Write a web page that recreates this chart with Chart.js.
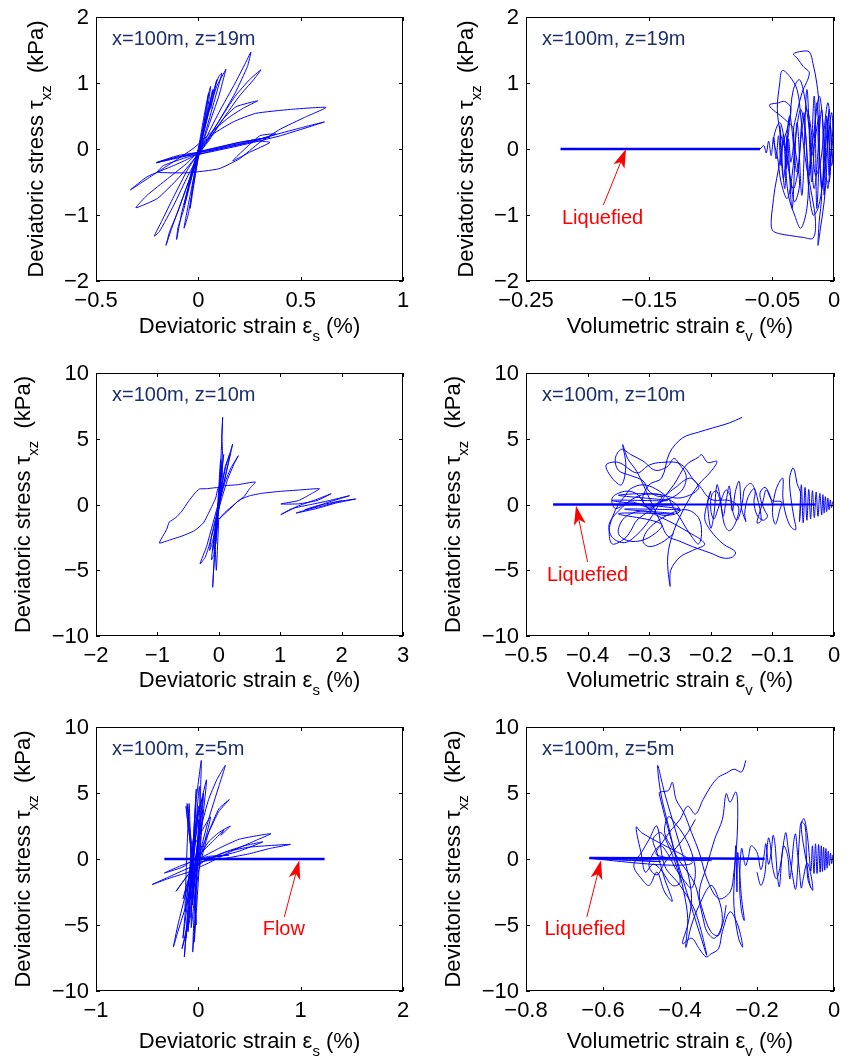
<!DOCTYPE html>
<html lang="en">
<head>
<meta charset="UTF-8">
<title>Stress paths x=100m</title>
<script src="https://cdn.jsdelivr.net/npm/chart.js"></script>
<style>
  body { margin: 0; background: #fff; }
  .page { position: relative; width: 850px; height: 1062px; }
  canvas { position: absolute; }
</style>
</head>
<body>
<div class="page">
  <canvas id="p1" width="425" height="354" style="left:0;top:0"></canvas>
  <canvas id="p2" width="425" height="354" style="left:425px;top:0"></canvas>
  <canvas id="p3" width="425" height="354" style="left:0;top:354px"></canvas>
  <canvas id="p4" width="425" height="354" style="left:425px;top:354px"></canvas>
  <canvas id="p5" width="425" height="354" style="left:0;top:708px"></canvas>
  <canvas id="p6" width="425" height="354" style="left:425px;top:708px"></canvas>
</div>

<script>
// ---- data (strain %, stress kPa) ----
const depthLabels = ['x=100m, z=19m', 'x=100m, z=10m', 'x=100m, z=5m'];

const stressTicks19 = [-2, -1, 0, 1, 2];
const stressTicks = [-10, -5, 0, 5, 10];
const shearTicks19 = [-0.5, 0, 0.5, 1];
const volTicks19 = [-0.25, -0.15, -0.05, 0];
const shearTicks10 = [-2, -1, 0, 1, 2, 3];
const volTicks10 = [-0.5, -0.4, -0.3, -0.2, -0.1, 0];
const shearTicks5 = [-1, 0, 1, 2];
const volTicks5 = [-0.8, -0.6, -0.4, -0.2, 0];

// z = 19 m, deviatoric strain vs stress
const z19Shear = [
  [0,0],[0.02,0.25],[0.04,0.5],[0.03,0.3],[0,-0.05],[-0.03,-0.35],[-0.05,-0.55],[-0.03,-0.3],[0.01,0.1],
  [0.05,0.6],[0.07,0.9],[0.05,0.55],[0.01,0.05],[-0.04,-0.5],[-0.07,-0.85],[-0.04,-0.45],[0.02,0.2],
  [0.06,0.75],[0.1,1.1],[0.115,1.15],[0.08,0.75],[0.03,0.2],[-0.03,-0.4],[-0.07,-0.9],[-0.1,-1.2],
  [-0.106,-1.37],[-0.08,-0.95],[-0.02,-0.25],[0.04,0.45],[0.09,0.95],[0.13,1.18],[0.135,1.21],[0.1,0.8],
  [0.05,0.35],[0,-0.1],[-0.06,-0.6],[-0.1,-0.95],[-0.14,-1.25],[-0.158,-1.46],[-0.13,-1.2],[-0.06,-0.6],
  [0.02,0.05],[0.1,0.55],[0.18,1.0],[0.23,1.3],[0.257,1.47],[0.24,1.25],[0.18,0.85],[0.1,0.42],
  [0.03,0.08],[-0.05,-0.3],[-0.12,-0.72],[-0.18,-1.1],[-0.215,-1.32],[-0.19,-1.25],[-0.12,-0.85],
  [-0.05,-0.4],[0.02,0],[0.1,0.42],[0.18,0.8],[0.25,1.05],[0.306,1.2],[0.27,1.05],[0.2,0.8],[0.12,0.45],
  [0.05,0.12],[-0.02,-0.15],[-0.1,-0.45],[-0.2,-0.75],[-0.305,-0.89],[-0.25,-0.7],[-0.15,-0.45],
  [-0.05,-0.2],[0.04,0.1],[0.12,0.45],[0.184,0.64],[0.29,0.73],[0.22,0.62],[0.15,0.48],[0.08,0.3],
  [-0.02,0.02],[-0.1,-0.15],[-0.2,-0.35],[-0.332,-0.62],[-0.25,-0.42],[-0.12,-0.25],[-0.02,-0.1],
  [0.05,0.18],[0.17,0.41],[0.28,0.54],[0.45,0.6],[0.624,0.63],[0.52,0.48],[0.4,0.3],[0.3,0.1],
  [0.2,-0.15],[0.1,-0.3],[-0.05,-0.36],[-0.2,-0.35],[-0.17,-0.25],[-0.05,-0.12],[0.05,-0.05],
  [0.2,0.05],[0.4,0.2],[0.616,0.41],[0.5,0.32],[0.38,0.22],[0.25,0.1],[0.1,0],[0,-0.08],[-0.1,-0.12],
  [-0.207,-0.21],[-0.12,-0.15],[0,-0.06],[0.15,0.05],[0.3,0.15],[0.38,0.23],[0.3,0.2],[0.168,-0.18],
  [0.25,-0.05],[0.35,0.1],[0.28,0.12],[0.1,0],[0,-0.05],[-0.1,-0.1],[-0.2,-0.2],[-0.1,-0.12],[0,-0.05],
  [0.2,0.1],[0.35,0.18],[0.2,0.1],[0,-0.04]
];
const z19ShearCore = [
  [0,-0.1],[0.03,0.45],[0.05,0.85],[0.04,0.6],[0.01,0.1],[-0.02,-0.5],[-0.04,-0.9],[-0.03,-0.6],[0,0],
  [0.04,0.7],[0.06,0.95],[0.045,0.6],[0.02,0.2],[-0.01,-0.3],[-0.05,-1.0],[-0.07,-1.2],[-0.04,-0.7],
  [0.01,0.05],[0.07,0.8],[0.09,1.05],[0.06,0.6]
];

// z = 19 m, volumetric strain vs stress
const z19Vol = [
  [-0.06,0],[-0.057,0.05],[-0.055,-0.06],[-0.053,0.12],[-0.051,-0.1],[-0.049,0.18],[-0.047,-0.15],
  [-0.045,0.2],[-0.043,-0.25],[-0.041,0.22],[-0.039,-0.3],[-0.037,0.15],[-0.035,-0.2],[-0.033,0.3],
  [-0.04,0.45],[-0.0525,0.66],[-0.045,0.7],[-0.04,0.72],[-0.035,0.62],[-0.038,0.3],[-0.042,0.05],
  [-0.045,-0.3],[-0.048,-0.6],[-0.05,-0.9],[-0.051,-1.1],[-0.05,-1.23],[-0.045,-1.28],[-0.036,-1.31],
  [-0.025,-1.34],[-0.017,-1.35],[-0.015,-1.1],[-0.018,-0.7],[-0.022,-0.3],[-0.025,0.1],[-0.027,0.5],
  [-0.03,0.9],[-0.036,1.1],[-0.042,1.19],[-0.044,1.0],[-0.046,0.6],[-0.043,0.2],[-0.038,-0.1],
  [-0.035,-0.5],[-0.032,-0.8],[-0.028,-0.55],[-0.03,-0.2],[-0.033,0.25],[-0.03,0.55],[-0.026,0.85],
  [-0.02,1.15],[-0.025,1.25],[-0.03,1.38],[-0.033,1.44],[-0.026,1.48],[-0.02,1.47],[-0.017,1.29],
  [-0.014,1.0],[-0.012,0.6],[-0.013,0.2],[-0.011,-0.3],[-0.01,-0.7],[-0.012,-1.1],[-0.013,-1.46],
  [-0.011,-1.2],[-0.008,-0.8],[-0.006,-0.3],[-0.005,0.3],[-0.004,0.6],[-0.006,0.2],[-0.008,-0.4],
  [-0.004,-0.5],[-0.002,0],[0,0.2],[-0.002,-0.25],[-0.006,0.45],[-0.01,-0.6],[-0.014,0.7],[-0.018,-0.5],
  [-0.022,0.9],[-0.026,-0.7],[-0.03,0.4],[-0.034,-0.9],[-0.038,0.2],[-0.04,-0.6],[-0.044,0.35],
  [-0.041,-0.45],[-0.036,0.5],[-0.03,-0.35],[-0.025,0.55],[-0.02,-0.4],[-0.016,0.8],[-0.014,-0.9],
  [-0.012,0.5],[-0.018,-0.1],[-0.02,0.4],[-0.016,-0.6],[-0.01,0.6],[-0.008,-0.7],[-0.006,0.5],
  [-0.004,-0.4],[-0.003,0.35],[-0.001,-0.15],[0,0.05]
];
const z19VolLoops = [
  [-0.02,0.3],[-0.024,0.8],[-0.028,1.05],[-0.033,0.9],[-0.036,0.4],[-0.039,-0.2],[-0.037,-0.7],
  [-0.032,-1.0],[-0.027,-1.2],[-0.022,-0.9],[-0.02,-0.3],[-0.016,0.3],[-0.012,0.8],[-0.009,0.4],
  [-0.007,-0.2],[-0.005,-0.6],[-0.003,-0.2],[-0.001,0.3],[-0.002,0.55],[-0.005,0.1],[-0.009,-0.5],
  [-0.013,-0.9],[-0.017,-1.0],[-0.021,-0.5],[-0.023,0.2],[-0.027,0.6],[-0.031,0.2],[-0.034,-0.4],
  [-0.038,-0.75],[-0.043,-0.5],[-0.046,-0.1],[-0.049,0.15],[-0.044,0.4],[-0.04,0.1],[-0.037,-0.3],
  [-0.033,-0.6],[-0.029,-0.3],[-0.026,0.3],[-0.022,0.6],[-0.018,0.2],[-0.015,-0.4],[-0.011,-0.2],
  [-0.008,0.3],[-0.005,0.7],[-0.003,0.4],[-0.002,-0.1]
];
const z19VolFlat = [[-0.222,0],[-0.06,0]];

// z = 10 m, deviatoric strain vs stress
const z10Shear = [
  [0,0],[0.02,1.5],[0.04,3.0],[0.02,1.0],[-0.02,-1.5],[-0.05,-3.0],[-0.02,-1.0],[0.03,2.0],[0.06,4.0],
  [0.05,5.2],[0.063,6.63],[0.04,4.0],[0,0.5],[-0.05,-2.5],[-0.08,-4.5],[-0.1,-6.3],[-0.07,-4.0],
  [-0.02,-1.0],[0.05,1.5],[0.12,3.0],[0.2,4.2],[0.226,4.6],[0.15,3.0],[0.05,1.0],[-0.05,-1.0],
  [-0.15,-3.0],[-0.22,-4.0],[-0.306,-4.52],[-0.2,-3.2],[-0.1,-1.5],[0,0.2],[0.1,1.7],[0.2,2.8],
  [0.318,3.71],[0.25,3.1],[0.15,2.0],[0.05,0.5],[-0.05,-1.2],[-0.12,-2.5],[-0.15,-3.5],[-0.1,-2.8],
  [-0.05,-1.5],[0,0],[0.05,1.2],[0,1.3],[-0.2,1.2],[-0.317,1.18],[-0.4,0.8],[-0.5,0.2],[-0.6,-0.5],
  [-0.7,-1.0],[-0.806,-1.33],[-0.85,-1.9],[-0.968,-2.93],[-0.8,-2.7],[-0.6,-2.4],[-0.4,-2.0],
  [-0.25,-1.4],[-0.15,-0.5],[-0.05,0.5],[0,1.35],[0.3,1.5],[0.595,1.71],[0.5,1.2],[0.416,0.62],
  [0.3,0.2],[0.17,-0.39],[0.05,-0.9],[0.009,-1.1],[0.1,-0.6],[0.2,-0.2],[0.3,0.2],[0.372,0.42],
  [0.5,0.66],[0.7,0.85],[1.0,1.0],[1.3,1.1],[1.64,1.2],[1.5,0.8],[1.3,0.3],[1.01,0.04],[1.3,0.05],
  [1.6,0.3],[1.83,0.82],[1.6,0.4],[1.3,-0.1],[1.01,-0.77],[1.2,-0.3],[1.5,0],[1.8,0.3],[2.13,0.67],
  [1.8,0.2],[1.5,-0.3],[1.26,-0.65],[1.6,-0.3],[1.9,0.1],[2.23,0.42],[1.9,0.2],[1.6,-0.1],[1.4,-0.4],
  [1.7,-0.1],[2.0,0.3]
];
const z10ShearCore = [
  [0,0],[0.05,2.5],[0.08,3.8],[0.02,1.5],[-0.05,-1.8],[-0.1,-3.5],[-0.03,-1.2],[0.1,2.8],[0.18,3.8],
  [0.1,2.0],[-0.02,-0.8],[-0.08,-3.8],[-0.12,-4.2],[-0.05,-1.5],[0.06,2.2],[0.03,3.4],[-0.01,0.5],
  [-0.06,-2.6],[-0.04,-5.0],[0,-1.0]
];

// z = 10 m, volumetric strain vs stress
const z10Vol = [
  [0,0],[-0.002,0.2],[-0.004,-0.25],[-0.006,0.35],[-0.008,-0.4],[-0.01,0.5],[-0.012,-0.55],[-0.014,0.6],
  [-0.016,-0.65],[-0.018,0.75],[-0.02,-0.8],[-0.023,0.85],[-0.026,-0.9],[-0.029,0.95],[-0.032,-1.0],
  [-0.035,1.05],[-0.038,-1.1],[-0.041,1.15],[-0.044,-1.2],[-0.047,1.3],[-0.05,-1.4],[-0.053,1.5],
  [-0.056,-1.3],[-0.054,0.8],[-0.06,1.6],[-0.064,2.6],[-0.067,2.78],[-0.072,2.0],[-0.07,0.5],
  [-0.065,-1.0],[-0.062,-1.91],[-0.07,-1.7],[-0.078,-0.8],[-0.083,0.5],[-0.083,2.0],[-0.09,1.6],
  [-0.096,0.8],[-0.1,-0.6],[-0.095,-1.5],[-0.088,-0.4],[-0.085,0.2],[-0.1,0.3],[-0.11,1.1],[-0.115,0.3],
  [-0.12,-0.5],[-0.125,-1.4],[-0.118,-1.2],[-0.125,0.6],[-0.13,1.2],[-0.14,0.5],[-0.145,-0.7],
  [-0.143,-1.3],[-0.15,-0.3],[-0.154,1.76],[-0.16,1.0],[-0.165,-0.5],[-0.17,1.4],[-0.175,0.3],
  [-0.18,-0.9],[-0.185,0.6],[-0.19,1.5],[-0.195,-0.8],[-0.2,-1.8],[-0.205,0.2],[-0.2,1.0],[-0.21,-1.0],
  [-0.2,-2.0],[-0.18,-3.0],[-0.16,-3.6],[-0.165,-4.0],[-0.18,-4.07],[-0.2,-3.7],[-0.23,-3.2],
  [-0.25,-2.8],[-0.27,-2.4],[-0.28,-1.5],[-0.3,0.5],[-0.32,2.5],[-0.335,3.5],[-0.343,4.55],[-0.338,3.0],
  [-0.345,1.5],[-0.36,2.0],[-0.37,3.0],[-0.35,3.2],[-0.32,2.4],[-0.3,3.0],[-0.28,3.2],[-0.25,3.1],
  [-0.23,2.0],[-0.22,1.2],[-0.25,0.5],[-0.29,0.8],[-0.32,0.6],[-0.35,-0.5],[-0.365,-1.5],[-0.36,-2.5],
  [-0.34,-2.9],[-0.32,-2.3],[-0.3,-1.2],[-0.28,0.3],[-0.26,1.5],[-0.24,3.0],[-0.22,3.6],[-0.215,3.79],
  [-0.205,3.2],[-0.19,3.28],[-0.2,2.5],[-0.22,1.5],[-0.24,0],[-0.26,-2.0],[-0.27,-4.0],[-0.266,-6.22],
  [-0.265,-5.0],[-0.25,-4.0],[-0.23,-3.5],[-0.21,-3.0],[-0.24,-2.0],[-0.28,-1.0],[-0.31,-0.5],
  [-0.34,-1.0],[-0.35,-2.2],[-0.33,-2.8],[-0.3,-2.5],[-0.28,-1.5],[-0.35,-0.7],[-0.26,-0.7],
  [-0.34,-0.35],[-0.25,-0.35],[-0.36,0.3],[-0.27,0.3],[-0.35,0.7],[-0.28,0.7],[-0.3,-0.3],[-0.32,0.8],
  [-0.34,1.0],[-0.36,0.5],[-0.355,-0.3],[-0.33,0.2],[-0.3,-0.2],[-0.27,0.4],[-0.25,-0.5],[-0.28,-0.8],
  [-0.31,0.2],[-0.3,1.5],[-0.28,2.0],[-0.267,3.92],[-0.246,5.06],[-0.22,5.5],[-0.197,5.82],[-0.17,6.2],
  [-0.149,6.63]
];
const z10VolLoops = [
  [-0.1,0],[-0.105,0.8],[-0.112,1.3],[-0.12,0.9],[-0.118,0.2],[-0.112,-0.5],[-0.108,-0.9],[-0.115,-1.2],
  [-0.125,-0.8],[-0.13,0.2],[-0.128,1.0],[-0.135,1.6],[-0.145,1.2],[-0.148,0.4],[-0.152,-0.6],
  [-0.158,-1.2],[-0.165,-0.4],[-0.168,0.6],[-0.175,1.1],[-0.182,0.5],[-0.188,-0.3],[-0.195,-1.1],
  [-0.2,-0.4],[-0.198,0.8],[-0.19,1.0],[-0.183,-0.2],[-0.178,-1.5],[-0.17,-2.0],[-0.16,-1.4],
  [-0.155,-0.2],[-0.17,0.3],[-0.2,0.4],[-0.22,1.5],[-0.235,2.0],[-0.26,1.2],[-0.28,0.6],[-0.3,1.0],
  [-0.31,1.8],[-0.33,2.2],[-0.35,2.6],[-0.355,3.5],[-0.345,4.2],[-0.33,3.8],[-0.31,3.3],[-0.29,2.6],
  [-0.27,2.9],[-0.26,3.5],[-0.25,3.0],[-0.24,2.2],[-0.245,1.2],[-0.26,0.6],[-0.28,0.2],[-0.3,-0.5],
  [-0.32,-1.2],[-0.33,-2.0],[-0.34,-2.6],[-0.36,-3.0],[-0.365,-2.0],[-0.36,-1.0],[-0.35,0],[-0.34,0.6],
  [-0.33,1.2],[-0.31,1.5],[-0.29,1.2],[-0.27,0.5],[-0.26,-0.3],[-0.25,-1.0],[-0.24,-1.8],[-0.23,-2.5],
  [-0.22,-3.0],[-0.215,-2.2],[-0.22,-1.0],[-0.24,-0.4],[-0.27,-0.8],[-0.3,-1.8],[-0.31,-2.8],
  [-0.3,-3.2],[-0.28,-2.9],[-0.26,-2.2]
];
const z10VolFlat = [[-0.456,0],[-0.26,0]];
const z10VolTail = [[-0.26,0],[-0.03,0]];

// z = 5 m, deviatoric strain vs stress
const z5Shear = [
  [0,0],[0.01,1.5],[0.02,3],[0,1.0],[-0.03,-1.5],[-0.06,-3.5],[-0.04,-1.5],[-0.01,1.0],[0.02,3.5],
  [0.01,5.5],[-0.02,3.0],[-0.06,-0.5],[-0.1,-3.5],[-0.137,-7.42],[-0.11,-5.0],[-0.07,-1.5],[-0.04,1.5],
  [-0.02,4.5],[0.029,7.47],[0.02,5.0],[0,2.0],[-0.04,-1.5],[-0.08,-4.5],[-0.16,-6.8],[-0.08,-4.0],
  [-0.04,-0.5],[0.03,2.5],[0.1,4.5],[0.18,6.0],[0.264,7.1],[0.2,5.5],[0.1,3.0],[0,0],[-0.1,-3.0],
  [-0.2,-5.5],[-0.244,-6.67],[-0.2,-5.0],[-0.12,-2.5],[-0.06,0],[-0.1,2.5],[-0.12,4.0],[-0.09,2.0],
  [-0.05,-1.0],[-0.02,-3.0],[-0.055,-7.05],[-0.04,-4.0],[0,-1.0],[0.1,2.0],[0.2,3.8],[0.303,4.5],
  [0.2,3.6],[0.1,2.0],[0,0.2],[-0.1,-1.6],[-0.15,-3.0],[-0.1,-2.0],[-0.06,0.5],[-0.1,3.5],[-0.11,4.2],
  [-0.08,1.5],[-0.05,-2.0],[-0.02,-5.0],[-0.03,-3.0],[0,0],[0.1,1.3],[0.2,2.0],[0.313,2.5],[0.22,1.8],
  [0.25,2.2],[0.15,1.4],[0,0.3],[-0.15,-0.6],[-0.332,-1.06],[-0.2,-0.6],[0,0],[0.2,0.8],[0.4,1.5],
  [0.71,1.92],[0.5,1.2],[0.3,0.5],[0.1,-0.3],[-0.1,-1.0],[-0.3,-1.5],[-0.453,-1.94],[-0.3,-1.4],
  [-0.1,-0.7],[0.1,0],[0.3,0.6],[0.5,0.9],[0.9,1.11],[0.7,0.8],[0.5,0.4],[0.3,0.1],[0,-0.3],
  [-0.218,-2.45],[-0.1,-1.2],[0.05,-0.2],[0.25,0.5],[0.45,1.0],[0.63,1.3],[0.4,0.6],[0.2,0.2],[0,0],
  [0.1,0.2],[0.3,0.3],[0.1,0.1],[0,-0.1]
];
const z5ShearCore = [
  [-0.12,-6.0],[0,4.0],[-0.08,-3.0],[-0.02,5.3],[-0.1,-5.5],[-0.05,1.0],[-0.13,-4.0],[-0.09,4.2],
  [-0.06,-2.0],[0.05,5.0],[-0.04,-6.3],[0,3.0],[-0.15,-6.0],[-0.06,1.0],[0.08,6.0],[0,0],[-0.07,-5.2],
  [-0.03,2.5],[0.04,4.6],[-0.02,-1.0],[-0.09,-3.2],[-0.05,0.8],[0.12,3.2],[0,-0.5]
];
const z5Flow = [[-0.332,0],[1.234,0]];

// z = 5 m, volumetric strain vs stress
const z5Vol = [
  [0,0],[-0.003,0.3],[-0.006,-0.35],[-0.009,0.45],[-0.012,-0.5],[-0.015,0.6],[-0.018,-0.7],[-0.021,0.8],
  [-0.024,-0.85],[-0.027,0.9],[-0.03,-0.95],[-0.033,1.0],[-0.036,-1.0],[-0.04,1.1],[-0.044,-1.1],
  [-0.048,1.15],[-0.052,-1.1],[-0.056,1.0],[-0.06,-0.9],[-0.065,0.5],[-0.07,2.0],[-0.078,3.06],
  [-0.085,2.6],[-0.08,1.2],[-0.07,-0.5],[-0.062,-2.0],[-0.055,-2.37],[-0.06,-1.2],[-0.07,-0.3],
  [-0.08,-1.5],[-0.085,-2.2],[-0.09,-0.8],[-0.095,0.5],[-0.1,1.9],[-0.105,1.2],[-0.11,-0.5],
  [-0.115,-1.5],[-0.12,0.2],[-0.13,1.0],[-0.135,0.3],[-0.142,-2.1],[-0.148,-1.0],[-0.152,0.8],
  [-0.158,1.8],[-0.163,0.6],[-0.17,-0.4],[-0.177,1.16],[-0.182,0.2],[-0.19,-0.8],[-0.2,0.5],
  [-0.215,1.0],[-0.222,0.2],[-0.23,-0.5],[-0.24,0.8],[-0.245,-2.0],[-0.24,-4.0],[-0.233,-4.65],
  [-0.24,-3.0],[-0.25,0.5],[-0.252,-2.5],[-0.255,1.0],[-0.258,-1.0],[-0.26,-3.5],[-0.248,-6.0],
  [-0.237,-6.67],[-0.25,-5.0],[-0.27,-4.0],[-0.29,-5.5],[-0.3,-6.8],[-0.32,-7.2],[-0.332,-7.42],
  [-0.35,-6.8],[-0.37,-6.0],[-0.393,-6.41],[-0.38,-5.0],[-0.37,-3.0],[-0.38,-1.0],[-0.4,1.0],
  [-0.42,3.0],[-0.44,5.0],[-0.458,7.1],[-0.45,5.0],[-0.43,2.5],[-0.41,0],[-0.39,-2.5],[-0.38,-4.5],
  [-0.385,-6.7],[-0.37,-5.0],[-0.35,-3.5],[-0.32,-2.0],[-0.3,-3.0],[-0.29,-4.5],[-0.3,-5.8],
  [-0.32,-5.5],[-0.34,-4.0],[-0.35,-2.5],[-0.33,-0.5],[-0.31,1.5],[-0.29,3.0],[-0.28,4.95],[-0.27,4.3],
  [-0.255,5.08],[-0.25,4.0],[-0.253,1.0],[-0.26,-1.0],[-0.27,-2.5],[-0.3,-3.0],[-0.33,-1.5],
  [-0.35,0.5],[-0.37,2.0],[-0.39,3.5],[-0.41,4.5],[-0.42,5.8],[-0.43,5.2],[-0.454,4.95],[-0.332,-7.2],
  [-0.36,-4.0],[-0.4,-2.0],[-0.44,-0.5],[-0.46,2.5],[-0.48,1.5],[-0.5,0.5],[-0.52,-0.5],[-0.5,-1.5],
  [-0.48,-2.0],[-0.46,-1.0],[-0.44,-2.5],[-0.42,-3.2],[-0.44,-1.5],[-0.46,0.5],[-0.47,1.5],[-0.45,2.0],
  [-0.43,1.0],[-0.41,-0.5],[-0.4,-1.8],[-0.42,-2.0],[-0.45,-0.8],[-0.47,-0.4],[-0.49,-1.0],[-0.5,0.3],
  [-0.514,2.42],[-0.5,2.0],[-0.37,-0.35],[-0.635,0.06],[-0.45,-0.2],[-0.635,0.05],[-0.32,-0.1],
  [-0.46,0.3],[-0.44,1.5],[-0.42,2.3],[-0.4,3.0],[-0.38,4.0],[-0.36,3.4],[-0.34,4.5],[-0.32,5.5],
  [-0.3,6.2],[-0.28,6.5],[-0.26,6.8],[-0.24,6.6],[-0.229,7.47]
];
const z5VolLoops = [
  [-0.36,3.0],[-0.38,2.0],[-0.4,1.2],[-0.42,0.5],[-0.44,-0.3],[-0.46,-1.2],[-0.48,-0.6],[-0.47,0.4],
  [-0.45,1.0],[-0.43,0.3],[-0.41,-0.8],[-0.39,-1.6],[-0.37,-2.2],[-0.36,-1.0],[-0.37,0.5],[-0.39,1.8],
  [-0.41,2.6],[-0.43,3.2],[-0.44,2.0],[-0.42,0.8],[-0.4,-0.2],[-0.38,-1.0],[-0.36,-2.0],[-0.35,-3.2],
  [-0.34,-4.5],[-0.33,-5.5],[-0.31,-6.0],[-0.29,-5.0],[-0.28,-3.5]
];
const z5VolRight = [
  [-0.2,-1.0],[-0.19,-2.0],[-0.18,-1.2],[-0.175,0.4],[-0.17,1.6],[-0.165,1.0],[-0.16,-0.5],
  [-0.15,-1.5],[-0.14,-0.6],[-0.13,1.4],[-0.125,2.0],[-0.12,1.0],[-0.11,-0.8],[-0.1,-2.3],
  [-0.095,-1.0],[-0.09,1.5],[-0.085,2.8],[-0.075,2.5],[-0.072,0.5],[-0.068,-1.5],[-0.06,-2.2]
];
const z5VolFlat = [[-0.635,0.08],[-0.18,0.02]];

// ---- drawing ----
const FONT = '"Liberation Sans", Arial, Helvetica, sans-serif';
const BLUE = '#0000ff';
const RED = '#ff0000';
const NAVY = '#1b2f6b';

function fmt(v) {
  return String(v).replace('-', '\u2212');
}

function pts(list) {
  return list.map(([x, y]) => ({ x, y }));
}

// draw a run of text pieces, some as subscripts, starting at x (left)
function textRun(ctx, parts, x, y) {
  parts.forEach(p => {
    ctx.font = (p.sub ? '15px ' : '22px ') + FONT;
    ctx.fillText(p.t, x, y + (p.sub ? 8 : 0));
    x += ctx.measureText(p.t).width;
  });
}

function runWidth(ctx, parts) {
  let w = 0;
  parts.forEach(p => {
    ctx.font = (p.sub ? '15px ' : '22px ') + FONT;
    w += ctx.measureText(p.t).width;
  });
  return w;
}

function arrowTo(ctx, x0, y0, x1, y1) {
  const dx = x1 - x0, dy = y1 - y0;
  const len = Math.hypot(dx, dy);
  const ux = dx / len, uy = dy / len;
  const nx = -uy, ny = ux;
  const bx = x1 - ux * 19, by = y1 - uy * 19;
  const mx = x1 - ux * 14, my = y1 - uy * 14;
  ctx.beginPath();
  ctx.moveTo(x0, y0);
  ctx.lineTo(mx, my);
  ctx.stroke();
  ctx.beginPath();
  ctx.moveTo(x1, y1);
  ctx.lineTo(bx + nx * 6, by + ny * 6);
  ctx.lineTo(mx, my);
  ctx.lineTo(bx - nx * 6, by - ny * 6);
  ctx.closePath();
  ctx.fill();
}

const frame = {
  id: 'frame',
  afterDraw(chart) {
    const o = chart.options.plugins.frame;
    const ctx = chart.ctx;
    const a = chart.chartArea;
    const sx = chart.scales.x, sy = chart.scales.y;
    const L = a.left, R = a.right, T = a.top, B = a.bottom;
    ctx.save();

    // box and inward ticks
    ctx.strokeStyle = '#000';
    ctx.lineWidth = 1;
    ctx.strokeRect(L + 0.5, T + 0.5, R - L - 1, B - T - 1);
    ctx.beginPath();
    o.xTicks.forEach(v => {
      const px = Math.round(sx.getPixelForValue(v)) + 0.5;
      ctx.moveTo(px, B); ctx.lineTo(px, B - 4);
      ctx.moveTo(px, T); ctx.lineTo(px, T + 4);
    });
    o.yTicks.forEach(v => {
      const py = Math.round(sy.getPixelForValue(v)) + 0.5;
      ctx.moveTo(L, py); ctx.lineTo(L + 4, py);
      ctx.moveTo(R, py); ctx.lineTo(R - 4, py);
    });
    ctx.stroke();

    // tick labels
    ctx.fillStyle = '#000';
    ctx.font = '22px ' + FONT;
    ctx.textAlign = 'center';
    ctx.textBaseline = 'alphabetic';
    o.xTicks.forEach(v => ctx.fillText(fmt(v), sx.getPixelForValue(v), B + 26));
    ctx.textAlign = 'right';
    ctx.textBaseline = 'middle';
    o.yTicks.forEach(v => ctx.fillText(fmt(v), L - 7, sy.getPixelForValue(v) + 1));

    // axis titles
    ctx.textAlign = 'left';
    ctx.textBaseline = 'alphabetic';
    const xParts = o.vol
      ? [{ t: 'Volumetric strain \u03b5' }, { t: 'v', sub: true }, { t: ' (%)' }]
      : [{ t: 'Deviatoric strain \u03b5' }, { t: 's', sub: true }, { t: ' (%)' }];
    const xw = runWidth(ctx, xParts);
    textRun(ctx, xParts, (L + R) / 2 - xw / 2, B + o.xTitleGap);

    const yParts = [{ t: 'Deviatoric stress \u03c4' }, { t: 'xz', sub: true }, { t: '  (kPa)' }];
    const yw = runWidth(ctx, yParts);
    ctx.save();
    ctx.translate(L - o.yTitleGap, (T + B) / 2);
    ctx.rotate(-Math.PI / 2);
    textRun(ctx, yParts, -yw / 2, 0);
    ctx.restore();

    // location label
    ctx.fillStyle = NAVY;
    ctx.font = '20px ' + FONT;
    ctx.fillText(o.label, L + 16, T + 28);

    // red note with arrow
    if (o.note) {
      const n = o.note;
      ctx.fillStyle = RED;
      ctx.strokeStyle = RED;
      ctx.lineWidth = 1;
      ctx.font = '20px ' + FONT;
      ctx.fillText(n.text, sx.getPixelForValue(n.at[0]), sy.getPixelForValue(n.at[1]));
      arrowTo(ctx,
        sx.getPixelForValue(n.tail[0]), sy.getPixelForValue(n.tail[1]),
        sx.getPixelForValue(n.tip[0]), sy.getPixelForValue(n.tip[1]));
    }
    ctx.restore();
  }
};

// geometry of each panel inside its 425x354 canvas
const colGeom = [{ yw: 96, right: 22 }, { yw: 101, right: 16 }];
const rowGeom = [
  { top: 17, xh: 73, xTitleGap: 52, yTitleGap: 53 },
  { top: 19, xh: 72, xTitleGap: 51, yTitleGap: 66 },
  { top: 19, xh: 71, xTitleGap: 57, yTitleGap: 66 }
];

function panel(id, col, row, p) {
  const cg = colGeom[col], rg = rowGeom[row];
  const datasets = p.traces.map(tr => ({
    data: pts(tr), showLine: true, pointRadius: 0,
    borderColor: BLUE, borderWidth: 1, tension: p.tension
  }));
  (p.thick || []).forEach(seg => datasets.push({
    data: pts(seg.line), showLine: true, pointRadius: 0,
    borderColor: BLUE, borderWidth: seg.w, tension: 0
  }));
  new Chart(document.getElementById(id), {
    type: 'scatter',
    data: { datasets },
    plugins: [frame],
    options: {
      responsive: false,
      animation: false,
      devicePixelRatio: 1,
      layout: { padding: { left: 0, top: rg.top, right: cg.right, bottom: 0 } },
      plugins: {
        legend: { display: false },
        tooltip: { enabled: false },
        frame: {
          xTicks: p.xTicks, yTicks: p.yTicks, vol: p.vol, label: p.label, note: p.note,
          xTitleGap: rg.xTitleGap, yTitleGap: rg.yTitleGap
        }
      },
      scales: {
        x: {
          type: 'linear', min: p.xTicks[0], max: p.xTicks[p.xTicks.length - 1],
          ticks: { display: false }, grid: { display: false }, border: { display: false },
          afterFit(s) { s.height = rg.xh; }
        },
        y: {
          type: 'linear', min: p.yTicks[0], max: p.yTicks[p.yTicks.length - 1],
          ticks: { display: false }, grid: { display: false }, border: { display: false },
          afterFit(s) { s.width = cg.yw; }
        }
      }
    }
  });
}

panel('p1', 0, 0, {
  traces: [z19Shear, z19ShearCore], tension: 0.15,
  xTicks: shearTicks19, yTicks: stressTicks19, vol: false, label: depthLabels[0]
});
panel('p2', 1, 0, {
  traces: [z19Vol, z19VolLoops], tension: 0.35, thick: [{ line: z19VolFlat, w: 2.6 }],
  xTicks: volTicks19, yTicks: stressTicks19, vol: true, label: depthLabels[0],
  note: { text: 'Liquefied', at: [-0.2208, -1.13], tail: [-0.1872, -0.85], tip: [-0.1688, 0] }
});
panel('p3', 0, 1, {
  traces: [z10Shear, z10ShearCore], tension: 0.15,
  xTicks: shearTicks10, yTicks: stressTicks, vol: false, label: depthLabels[1]
});
panel('p4', 1, 1, {
  traces: [z10Vol, z10VolLoops], tension: 0.35,
  thick: [{ line: z10VolFlat, w: 2.6 }, { line: z10VolTail, w: 1.8 }],
  xTicks: volTicks10, yTicks: stressTicks, vol: true, label: depthLabels[1],
  note: { text: 'Liquefied', at: [-0.466, -5.84], tail: [-0.4, -4.37], tip: [-0.4188, -0.1] }
});
panel('p5', 0, 2, {
  traces: [z5Shear, z5ShearCore], tension: 0.15, thick: [{ line: z5Flow, w: 2.6 }],
  xTicks: shearTicks5, yTicks: stressTicks, vol: false, label: depthLabels[2],
  note: { text: 'Flow', at: [0.629, -5.78], tail: [0.84, -4.39], tip: [0.987, -0.1] }
});
panel('p6', 1, 2, {
  traces: [z5Vol, z5VolLoops, z5VolRight], tension: 0.35, thick: [{ line: z5VolFlat, w: 2.6 }],
  xTicks: volTicks5, yTicks: stressTicks, vol: true, label: depthLabels[2],
  note: { text: 'Liquefied', at: [-0.752, -5.78], tail: [-0.642, -4.39], tip: [-0.605, -0.1] }
});
</script>
</body>
</html>
